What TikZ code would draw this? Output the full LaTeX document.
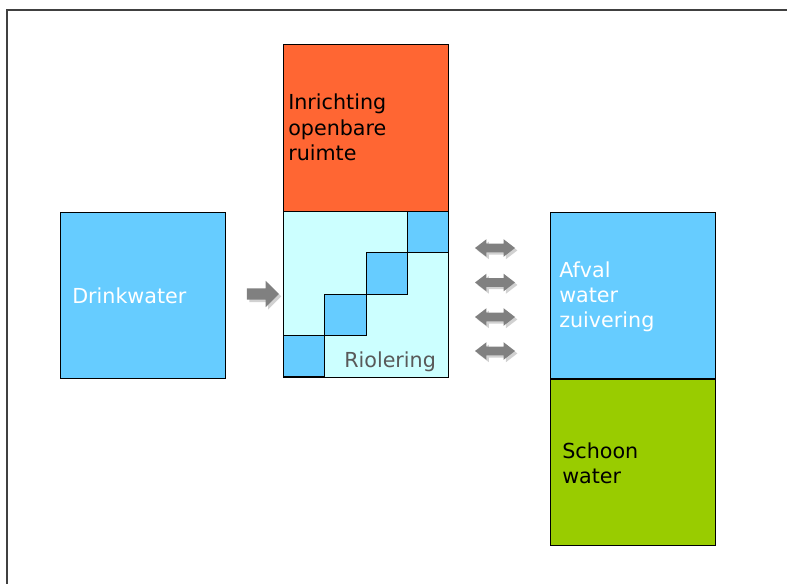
\documentclass[tikz,border=0pt]{standalone}
\usepackage{fontspec}
\setmainfont{DejaVu Sans}
\usetikzlibrary{shapes.arrows,shadows}

\definecolor{waterblue}{HTML}{66CCFF}
\definecolor{publicred}{HTML}{FF6633}
\definecolor{sewercyan}{HTML}{CCFFFF}
\definecolor{cleangreen}{HTML}{99CC00}
\definecolor{arrowgrey}{HTML}{808080}
\definecolor{labelgrey}{HTML}{595959}
\definecolor{framegrey}{HTML}{404040}

\newcommand{\lines}[1]{\begin{tabular}[t]{@{}l@{}}#1\end{tabular}}

\tikzset{
  block/.style={draw=black, line width=0.75pt, anchor=north west, inner sep=0pt,
    minimum width=123.75pt, minimum height=124.5pt},
  cell/.style={draw=black, line width=0.75pt, fill=waterblue, anchor=north west,
    inner sep=0pt, minimum width=30.94pt, minimum height=30.94pt},
  label/.style={anchor=base west, inner sep=0pt,
    font=\fontsize{15.5}{19.1}\selectfont},
  arrowshadow/.style={drop shadow={shadow xshift=1.8pt, shadow yshift=-1.8pt,
    fill=black!40, opacity=0.45}},
  rightarrow/.style={single arrow, fill=arrowgrey, draw=none, inner xsep=0pt,
    inner ysep=4.1pt, minimum height=24pt, single arrow head extend=5.6pt,
    single arrow tip angle=90, arrowshadow},
  bothways/.style={double arrow, fill=arrowgrey, draw=none, inner xsep=0pt,
    inner ysep=3pt, minimum height=30pt, double arrow head extend=3.4pt,
    double arrow tip angle=75, arrowshadow}
}

\begin{document}
\begin{tikzpicture}[x=0.75pt, y=-0.75pt]
  \useasboundingbox (0,0) rectangle (787,584);

  % frame (left and top edges)
  \draw[framegrey, line width=1.2pt] (7,584) -- (7,10) -- (787,10);

  % drinking water
  \node[block, fill=waterblue] (drink) at (60,212) {};
  \node[label, text=white] (drinkl) at (72,303) {Drinkwater};

  % public space on top of the sewer block
  \node[block, fill=publicred, minimum height=125.25pt] (public) at (283,44) {};
  \node[label, text=black] (publicl) at (288,110) {\lines{Inrichting\\openbare\\ruimte}};

  % sewer block with its staircase of cells
  \node[block, fill=sewercyan] (sewer) at (283,211) {};
  \node[cell] (c1) at (406.75,211) {};
  \node[cell] (c2) at (365.5,252.25) {};
  \node[cell] (c3) at (324.25,293.5) {};
  \node[cell] (c4) at (283,334.75) {};
  \node[label, text=labelgrey] (sewerl) at (344,367) {Riolering};

  % waste water treatment and clean water
  \node[block, fill=waterblue] (waste) at (550,212) {};
  \node[label, text=white] (wastel) at (559,277) {\lines{Afval\\water\\zuivering}};
  \node[block, fill=cleangreen] (clean) at (550,379) {};
  \node[label, text=black] (cleanl) at (562,458) {\lines{Schoon\\water}};

  % flow arrows
  \node[rightarrow] (flow) at (260,294) {};
  \node[bothways] (ex1) at (495,248) {};
  \node[bothways] (ex2) at (495,282.5) {};
  \node[bothways] (ex3) at (495,317) {};
  \node[bothways] (ex4) at (495,351) {};
\end{tikzpicture}
\end{document}
